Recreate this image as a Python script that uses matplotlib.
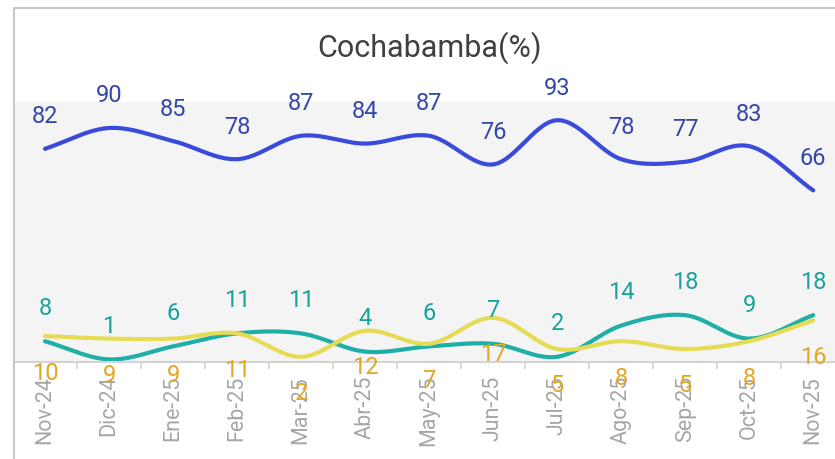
import numpy as np
import matplotlib
matplotlib.use("Agg")
import matplotlib.pyplot as plt
from matplotlib.lines import Line2D

plt.rcParams['font.family'] = ['Roboto', 'DejaVu Sans']

# datos
meses = ['Nov-24', 'Dic-24', 'Ene-25', 'Feb-25', 'Mar-25', 'Abr-25', 'May-25',
         'Jun-25', 'Jul-25', 'Ago-25', 'Sep-25', 'Oct-25', 'Nov-25']
serie_azul = [82, 90, 85, 78, 87, 84, 87, 76, 93, 78, 77, 83, 66]
serie_verde = [8, 1, 6, 11, 11, 4, 6, 7, 2, 14, 18, 9, 18]
serie_amarilla = [10, 9, 9, 11, 2, 12, 7, 17, 5, 8, 5, 8, 16]


def suavizar(y, n=30):
    # curva tipo catmull-rom entre los puntos
    y = np.asarray(y, dtype=float)
    x = np.arange(len(y))
    m = np.zeros_like(y)
    m[1:-1] = (y[2:] - y[:-2]) / 2
    m[0] = y[1] - y[0]
    m[-1] = y[-1] - y[-2]
    xs, ys = [], []
    for i in range(len(y) - 1):
        t = np.linspace(0, 1, n, endpoint=False)
        h00 = 2 * t**3 - 3 * t**2 + 1
        h10 = t**3 - 2 * t**2 + t
        h01 = -2 * t**3 + 3 * t**2
        h11 = t**3 - t**2
        xs.append(x[i] + t)
        ys.append(h00 * y[i] + h10 * m[i] + h01 * y[i + 1] + h11 * m[i + 1])
    xs.append([x[-1]])
    ys.append([y[-1]])
    return np.concatenate(xs), np.concatenate(ys)


fig = plt.figure(figsize=(8.35, 4.59), dpi=100)
W, H = 835, 459
ax = fig.add_axes([14 / W, 1 - 362 / H, 1 - 14 / W, 260 / H])
ax.set_facecolor('#F4F4F4')

x = np.arange(len(meses))
series = [
    (serie_azul, '#3A4BDB', '#3446A8', 32),
    (serie_verde, '#1FAFA7', '#17A39B', 33),
    (serie_amarilla, '#E6DB55', '#E3A623', -37),
]
for valores, c_linea, c_texto, off in series:
    xs, ys = suavizar(valores)
    ax.plot(xs, ys, color=c_linea, linewidth=3, solid_capstyle='round', clip_on=False)
    for xi, v in zip(x, valores):
        ax.annotate(str(v), (xi, v), xytext=(0, off), textcoords='offset pixels',
                    ha='center', va='center', fontsize=17, color=c_texto,
                    annotation_clip=False)

ax.set_xlim(-0.484, 12.34)
ax.set_ylim(0, 100)
for s in ['top', 'left', 'right']:
    ax.spines[s].set_visible(False)
ax.spines['bottom'].set_color('#D4D4D4')
ax.spines['bottom'].set_linewidth(1.5)
ax.set_yticks([])
ax.set_xticks(x)
ax.set_xticklabels(meses, rotation=90, fontsize=15.5, color='#A6A6A6')
ax.tick_params(axis='x', which='major', length=0, pad=10)
ax.set_xticks(x[:-1] + 0.5, minor=True)
ax.tick_params(axis='x', which='minor', length=5, width=1.2, color='#D4D4D4')

fig.text(430 / W, 1 - 48 / H, 'Cochabamba(%)', ha='center', va='center',
         fontsize=22, color='#404040')

# marco
fig.add_artist(Line2D([13.5 / W, 13.5 / W, 1.0], [0, 1 - 7.5 / H, 1 - 7.5 / H],
                      transform=fig.transFigure, color='#C8C8C8', linewidth=1.5))

fig.savefig('out.png', dpi=100)
